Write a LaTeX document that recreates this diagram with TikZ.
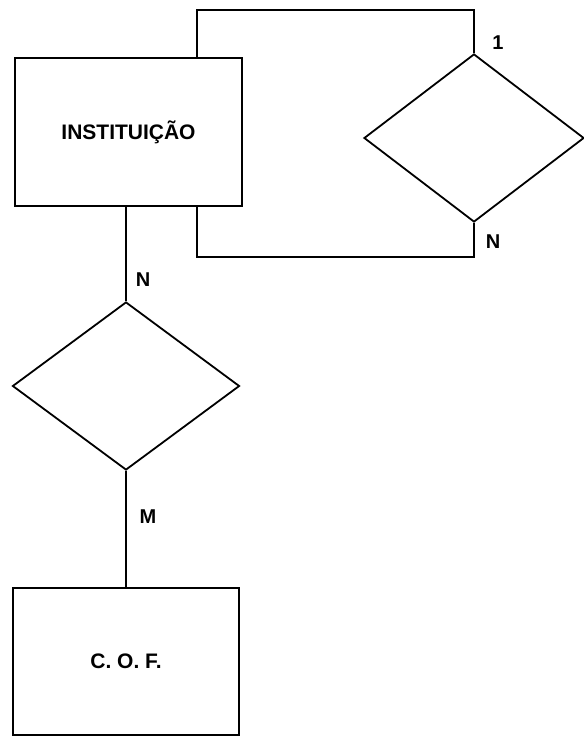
\documentclass[tikz,border=0pt]{standalone}
\usepackage{fontspec}
\setmainfont{Liberation Sans}
\usetikzlibrary{shapes.geometric}
\begin{document}
\begin{tikzpicture}[x=1pt,y=-1pt,
  line width=1.8pt,
  entity/.style={draw, rectangle, inner sep=0pt, font=\bfseries\fontsize{21}{23}\selectfont},
  relation/.style={draw, diamond, inner sep=0pt},
  card/.style={font=\bfseries\fontsize{20}{22}\selectfont, inner sep=0pt}]
\useasboundingbox (0,0) rectangle (584,737);
\node[entity, minimum width=227pt, minimum height=148pt] (inst) at (128.5,132) {INSTITUIÇÃO};
\node[entity, minimum width=226pt, minimum height=147pt] (cof) at (126,661.5) {C. O. F.};
\node[relation, minimum width=227pt, minimum height=168pt] (ldia) at (126,386) {};
\node[relation, minimum width=220pt, minimum height=168pt] (rdia) at (474,138) {};
\coordinate (lt) at (197,10);
\coordinate (lb) at (197,257);
\draw (ldia.north |- inst.south) -- (ldia.north);
\draw (ldia.south) -- (ldia.south |- cof.north);
\draw (lt |- inst.north) -- (lt) -| (rdia.north);
\draw (lb |- inst.south) -- (lb) -| (rdia.south);
\node[card] (c1) at (498,43) {1};
\node[card] (c2) at (493,242) {N};
\node[card] (c3) at (143,280) {N};
\node[card] (c4) at (148,517) {M};
\end{tikzpicture}
\end{document}
